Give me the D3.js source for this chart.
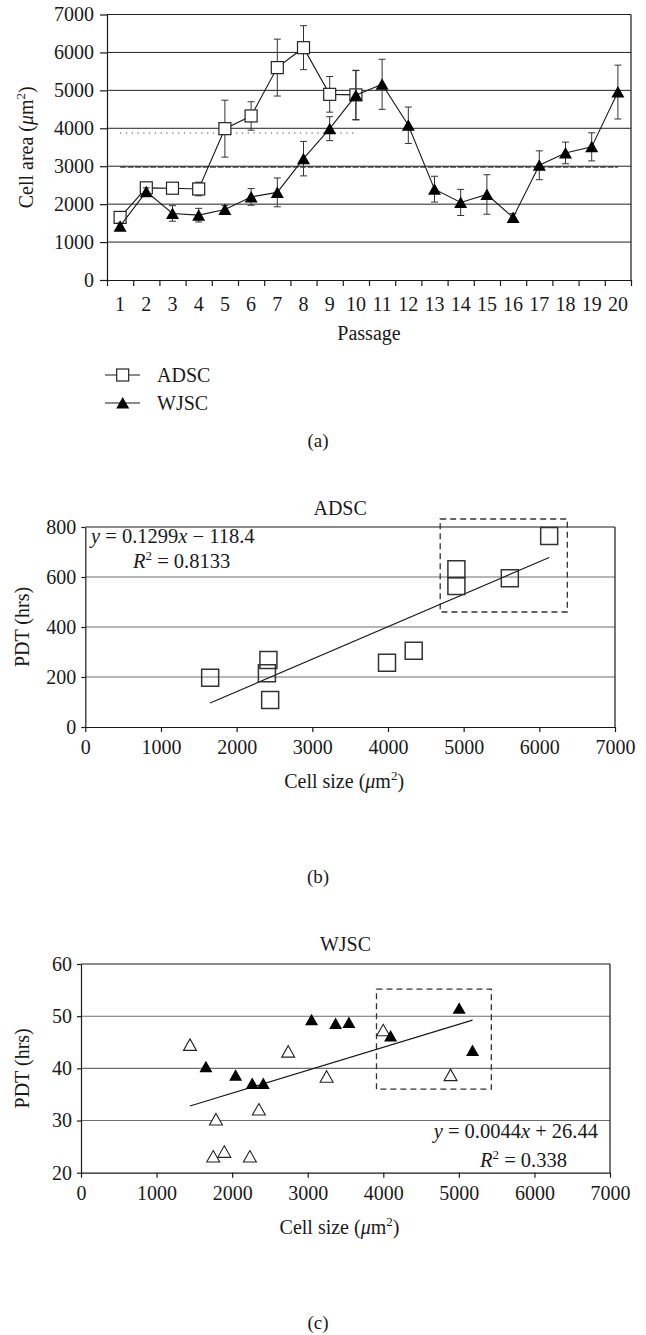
<!DOCTYPE html>
<html>
<head>
<meta charset="utf-8">
<script src="https://cdn.jsdelivr.net/npm/d3@7"></script>
<style>
  body { margin: 0; background: #fff; }
  svg { display: block; }
  text { font-family: "Liberation Serif", "Times New Roman", serif; fill: #1a1a1a; white-space: pre; }
</style>
</head>
<body>
<svg id="fig" width="646" height="1335"></svg>
<script>
// ---- panel (a): cell area per passage ----
const passages = [1, 2, 3, 4, 5, 6, 7, 8, 9, 10, 11, 12, 13, 14, 15, 16, 17, 18, 19, 20];
const adscArea = [1650, 2430, 2420, 2400, 3990, 4325, 5600, 6125, 4895, 4880];
const adscErr = [90, 130, 100, 180, 750, 375, 750, 580, 470, 650];
const wjscArea = [1420, 2330, 1755, 1710, 1860, 2190, 2310, 3200, 3990, 4870,
                  5160, 4080, 2395, 2045, 2255, 1650, 3025, 3350, 3510, 4955];
const wjscErr = [80, 100, 205, 180, 100, 220, 380, 455, 315, 650,
                 660, 480, 340, 345, 520, 100, 380, 285, 370, 710];
const adscMean = 3876;
const wjscMean = 2980;
const areaTicks = [0, 1000, 2000, 3000, 4000, 5000, 6000, 7000];

// ---- panel (b): ADSC PDT vs cell size ----
const adscSize = [1650, 2420, 2400, 2443, 3987, 4340, 4904, 4904, 5610, 6130];
const adscPdt = [197, 268, 215, 108, 257, 305, 631, 564, 595, 764];
const adscFit = { slope: 0.1299, intercept: -118.4, from: 1650, to: 6130 };
const adscBox = { x0: 4690, x1: 6370, y0: 460, y1: 832 };
const pdtTicksB = [0, 200, 400, 600, 800];

// ---- panel (c): WJSC PDT vs cell size ----
const wjscOpenSize = [1442, 1750, 1786, 1896, 2235, 2354, 2742, 3250, 3999, 4890];
const wjscOpenPdt = [44.5, 23.1, 30.2, 24.0, 23.1, 32.1, 43.2, 38.4, 47.3, 38.7];
const wjscFillSize = [1653, 2046, 2266, 2412, 3051, 3369, 3545, 4097, 5004, 5181];
const wjscFillPdt = [40.3, 38.7, 37.1, 37.1, 49.3, 48.6, 48.8, 46.2, 51.5, 43.4];
const wjscFit = { slope: 0.0044, intercept: 26.44, from: 1442, to: 5181 };
const wjscBox = { x0: 3910, x1: 5430, y0: 36.0, y1: 55.2 };
const pdtTicksC = [20, 30, 40, 50, 60];

const sizeTicks = [0, 1000, 2000, 3000, 4000, 5000, 6000, 7000];

const svg = d3.select("#fig");
const INK = "#1a1a1a";
const tri = "M0,-6L6.5,5.5L-6.5,5.5Z";
const plain = d3.format("d");

// text with italic / superscript pieces
function label(g, x, y, parts, anchor, rotate, size) {
  const t = g.append("text")
    .attr("text-anchor", anchor || "start")
    .attr("font-size", size || 20);
  if (rotate) t.attr("transform", `translate(${x},${y}) rotate(-90)`);
  else t.attr("x", x).attr("y", y);
  let down = 0;
  parts.forEach(p => {
    const [s, kind] = typeof p === "string" ? [p, ""] : p;
    const ts = t.append("tspan").text(s);
    if (kind === "i") ts.attr("font-style", "italic");
    if (kind === "sup") { ts.attr("font-size", 13).attr("dy", -8); down = 8; }
    else if (down) { ts.attr("dy", down); down = 0; }
  });
  return t;
}

function styleAxis(g) {
  g.selectAll("path.domain").attr("stroke", INK).attr("stroke-width", 1.2);
  g.selectAll(".tick line").attr("stroke", INK).attr("stroke-width", 1.2);
  g.selectAll(".tick text").attr("font-size", 20).attr("fill", INK)
    .attr("font-family", "Liberation Serif, serif");
}

// ================= panel (a) =================
{
  const left = 107, right = 631, top = 14.5, bottom = 280;
  const x = d3.scaleBand().domain(passages).range([left, right]);
  const cx = p => x(p) + x.bandwidth() / 2;
  const y = d3.scaleLinear().domain([0, 7000]).range([bottom, top]);
  const g = svg.append("g");

  // gridlines + frame
  g.selectAll("line.grid").data(areaTicks.slice(1)).join("line")
    .attr("x1", left).attr("x2", right)
    .attr("y1", d => y(d)).attr("y2", d => y(d))
    .attr("stroke", "#222").attr("stroke-width", 1);
  g.append("line").attr("x1", right).attr("x2", right).attr("y1", top).attr("y2", bottom)
    .attr("stroke", INK).attr("stroke-width", 1.2);

  // mean lines
  g.append("line")
    .attr("x1", cx(1)).attr("x2", cx(10)).attr("y1", y(adscMean)).attr("y2", y(adscMean))
    .attr("stroke", "#444").attr("stroke-width", 1.2).attr("stroke-dasharray", "1.2,4.6");
  g.append("line")
    .attr("x1", cx(1)).attr("x2", cx(20)).attr("y1", y(wjscMean)).attr("y2", y(wjscMean))
    .attr("stroke", "#444").attr("stroke-width", 1.8).attr("stroke-dasharray", "6,1.5");

  // axes
  const edge = d3.scaleLinear().domain([0, 20]).range([left, right]);
  const xe = g.append("g").attr("transform", `translate(0,${bottom})`)
    .call(d3.axisBottom(edge).tickValues(d3.range(0, 21)).tickFormat("").tickSize(6).tickSizeOuter(0));
  styleAxis(xe);
  const xl = g.append("g").attr("transform", `translate(0,${bottom})`)
    .call(d3.axisBottom(x).tickSize(0).tickPadding(16.5));
  xl.select("path.domain").remove();
  styleAxis(xl);
  const ya = g.append("g").attr("transform", `translate(${left},0)`)
    .call(d3.axisLeft(y).tickValues(areaTicks).tickFormat(plain).tickSize(7).tickPadding(6).tickSizeOuter(0));
  styleAxis(ya);

  const adsc = passages.slice(0, 10).map((p, i) => ({ p, v: adscArea[i], e: adscErr[i] }));
  const wjsc = passages.map((p, i) => ({ p, v: wjscArea[i], e: wjscErr[i] }));
  const line = d3.line().x(d => cx(d.p)).y(d => y(d.v));

  [adsc, wjsc].forEach((data, k) => {
    const s = g.append("g");
    const eb = s.selectAll("g.eb").data(data).join("g").attr("stroke", "#333").attr("stroke-width", 1);
    eb.append("line").attr("x1", d => cx(d.p)).attr("x2", d => cx(d.p))
      .attr("y1", d => y(d.v - d.e)).attr("y2", d => y(d.v + d.e));
    eb.append("line").attr("x1", d => cx(d.p) - 3.5).attr("x2", d => cx(d.p) + 3.5)
      .attr("y1", d => y(d.v + d.e)).attr("y2", d => y(d.v + d.e));
    eb.append("line").attr("x1", d => cx(d.p) - 3.5).attr("x2", d => cx(d.p) + 3.5)
      .attr("y1", d => y(d.v - d.e)).attr("y2", d => y(d.v - d.e));
    s.append("path").datum(data).attr("d", line).attr("fill", "none")
      .attr("stroke", INK).attr("stroke-width", 1.1);
    if (k === 0) {
      s.selectAll("rect").data(data).join("rect")
        .attr("x", d => cx(d.p) - 6).attr("y", d => y(d.v) - 6)
        .attr("width", 12).attr("height", 12)
        .attr("fill", "#fff").attr("stroke", "#222").attr("stroke-width", 1.2);
    } else {
      s.selectAll("path.m").data(data).join("path").attr("class", "m")
        .attr("d", tri).attr("transform", d => `translate(${cx(d.p)},${y(d.v)})`)
        .attr("fill", "#000");
    }
  });

  label(g, 33, (top + bottom) / 2, ["Cell area (", ["μ", "i"], "m", ["2", "sup"], ")"], "middle", true);
  label(g, (left + right) / 2, 340, ["Passage"], "middle");

  // legend
  const lg = g.append("g");
  [375, 403].forEach((ly, k) => {
    lg.append("line").attr("x1", 105).attr("x2", 140).attr("y1", ly).attr("y2", ly)
      .attr("stroke", INK).attr("stroke-width", 1.1);
    if (k === 0) lg.append("rect").attr("x", 122.7 - 6).attr("y", ly - 6).attr("width", 12).attr("height", 12)
      .attr("fill", "#fff").attr("stroke", "#222").attr("stroke-width", 1.2);
    else lg.append("path").attr("d", tri).attr("transform", `translate(122.7,${ly})`).attr("fill", "#000");
  });
  label(lg, 157, 382, ["ADSC"], "start");
  label(lg, 157, 410, ["WJSC"], "start");
  label(g, 318, 447, ["(a)"], "middle", false, 19);
}

// ========== scatter panels (b) and (c) ==========
function scatterPanel(o) {
  const g = svg.append("g");
  const x = d3.scaleLinear().domain([0, 7000]).range([o.left, o.right]);
  const y = d3.scaleLinear().domain(o.yDomain).range([o.bottom, o.top]);

  g.selectAll("line.grid").data(o.yTicks.slice(1, -1)).join("line")
    .attr("x1", o.left).attr("x2", o.right)
    .attr("y1", d => y(d)).attr("y2", d => y(d))
    .attr("stroke", "#6e6e6e").attr("stroke-width", 1.1);
  g.append("line").attr("x1", o.left).attr("x2", o.right).attr("y1", o.top).attr("y2", o.top)
    .attr("stroke", INK).attr("stroke-width", 1.2);
  g.append("line").attr("x1", o.right).attr("x2", o.right).attr("y1", o.top).attr("y2", o.bottom)
    .attr("stroke", INK).attr("stroke-width", 1.2);

  const xa = g.append("g").attr("transform", `translate(0,${o.bottom})`)
    .call(d3.axisBottom(x).tickValues(sizeTicks).tickFormat(plain).tickSize(5).tickPadding(8).tickSizeOuter(0));
  styleAxis(xa);
  const ya = g.append("g").attr("transform", `translate(${o.left},0)`)
    .call(d3.axisLeft(y).tickValues(o.yTicks).tickFormat(plain).tickSize(4).tickPadding(5).tickSizeOuter(0));
  styleAxis(ya);

  // highlight box
  g.append("rect")
    .attr("x", x(o.box.x0)).attr("y", y(o.box.y1))
    .attr("width", x(o.box.x1) - x(o.box.x0)).attr("height", y(o.box.y0) - y(o.box.y1))
    .attr("fill", "none").attr("stroke", "#333").attr("stroke-width", 1.3)
    .attr("stroke-dasharray", "6,4");

  // regression line
  const f = o.fit;
  g.append("line")
    .attr("x1", x(f.from)).attr("y1", y(f.slope * f.from + f.intercept))
    .attr("x2", x(f.to)).attr("y2", y(f.slope * f.to + f.intercept))
    .attr("stroke", INK).attr("stroke-width", 1.2);

  o.draw(g, x, y);

  label(g, (o.left + o.right) / 2 + o.titleDx, o.titleY, [o.title], "middle");
  label(g, 29, (o.top + o.bottom) / 2, ["PDT (hrs)"], "middle", true);
  label(g, (o.left + o.right) / 2 - 6, o.bottom + 61, ["Cell size (", ["μ", "i"], "m", ["2", "sup"], ")"], "middle");
  label(g, 318, o.panelY, [o.panel], "middle", false, 19);
  o.equation(g);
}

scatterPanel({
  left: 85.3, right: 615, top: 527, bottom: 727,
  yDomain: [0, 800], yTicks: pdtTicksB,
  box: adscBox, fit: adscFit,
  title: "ADSC", titleY: 515, titleDx: -10,
  panel: "(b)", panelY: 883,
  draw(g, x, y) {
    g.selectAll("rect.pt").data(adscSize).join("rect").attr("class", "pt")
      .attr("x", (d, i) => x(d) - 8.5).attr("y", (d, i) => y(adscPdt[i]) - 8.5)
      .attr("width", 17).attr("height", 17)
      .attr("fill", "none").attr("stroke", "#333").attr("stroke-width", 1.5);
  },
  equation(g) {
    label(g, 91, 543, [["y", "i"], " = 0.1299", ["x", "i"], " \u2212 118.4"], "start", false, 20.5);
    label(g, 133, 568, [["R", "i"], ["2", "sup"], " = 0.8133"], "start", false, 20.5);
  }
});

scatterPanel({
  left: 81, right: 610, top: 964, bottom: 1172.7,
  yDomain: [20, 60], yTicks: pdtTicksC,
  box: wjscBox, fit: wjscFit,
  title: "WJSC", titleY: 951, titleDx: 0,
  panel: "(c)", panelY: 1329,
  draw(g, x, y) {
    g.selectAll("path.open").data(wjscOpenSize).join("path").attr("class", "open")
      .attr("d", tri).attr("transform", (d, i) => `translate(${x(d)},${y(wjscOpenPdt[i])})`)
      .attr("fill", "#fff").attr("stroke", "#222").attr("stroke-width", 1.1);
    g.selectAll("path.fill").data(wjscFillSize).join("path").attr("class", "fill")
      .attr("d", tri).attr("transform", (d, i) => `translate(${x(d)},${y(wjscFillPdt[i])})`)
      .attr("fill", "#000");
  },
  equation(g) {
    label(g, 598, 1138, [["y", "i"], " = 0.0044", ["x", "i"], " + 26.44"], "end", false, 20.5);
    label(g, 567, 1167, [["R", "i"], ["2", "sup"], " = 0.338"], "end", false, 20.5);
  }
});
</script>
</body>
</html>
